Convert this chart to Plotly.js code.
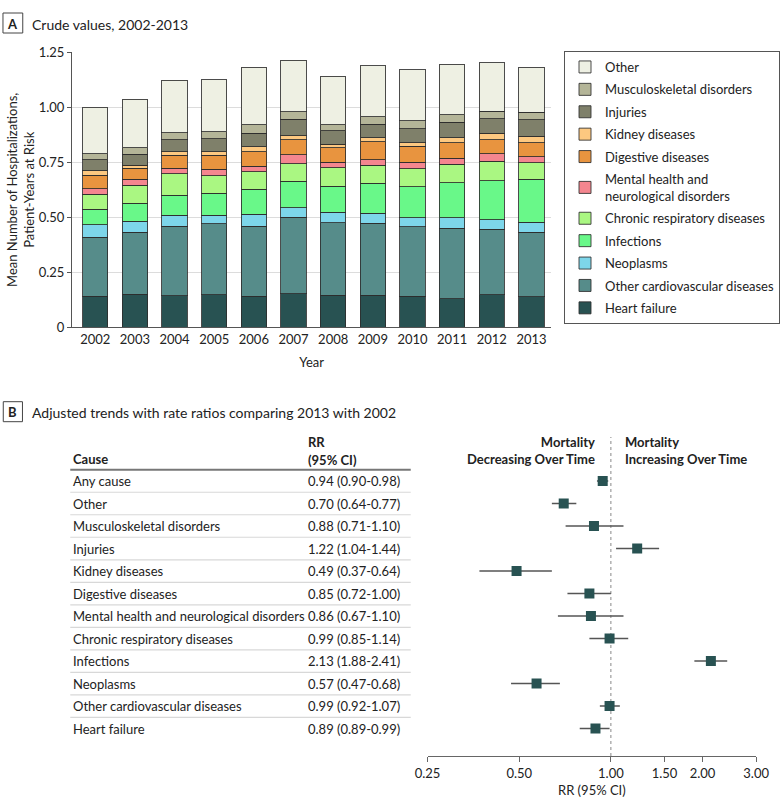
<!DOCTYPE html>
<html><head><meta charset="utf-8">
<script src="https://cdn.plot.ly/plotly-3.0.1.min.js"></script>
<style>html,body{margin:0;padding:0;background:#fff}#chart{width:780px;height:809px}</style>
</head><body><div id="chart"></div>
<script>
// ---------- Panel A data (crude values, stacked bottom to top) ----------
const years = ['2002','2003','2004','2005','2006','2007','2008','2009','2010','2011','2012','2013'];
const heartFailure   = [0.142,0.150,0.144,0.148,0.142,0.153,0.146,0.145,0.141,0.130,0.147,0.139];
const otherCardio    = [0.267,0.283,0.315,0.322,0.318,0.347,0.329,0.327,0.315,0.320,0.298,0.293];
const neoplasms      = [0.057,0.049,0.050,0.039,0.054,0.044,0.048,0.047,0.042,0.047,0.043,0.046];
const infections     = [0.070,0.082,0.092,0.100,0.113,0.119,0.118,0.136,0.140,0.159,0.178,0.194];
const chronicResp    = [0.069,0.081,0.098,0.081,0.081,0.080,0.084,0.082,0.083,0.085,0.088,0.076];
const mentalNeuro    = [0.025,0.028,0.023,0.029,0.023,0.042,0.025,0.025,0.030,0.027,0.036,0.027];
const digestive      = [0.062,0.050,0.060,0.063,0.068,0.068,0.067,0.082,0.072,0.072,0.063,0.065];
const kidney         = [0.019,0.013,0.015,0.016,0.021,0.017,0.015,0.018,0.017,0.021,0.030,0.028];
const injuries       = [0.050,0.050,0.056,0.058,0.062,0.075,0.061,0.062,0.063,0.072,0.065,0.076];
const musculoskeletal= [0.029,0.030,0.031,0.032,0.038,0.035,0.027,0.034,0.037,0.033,0.033,0.033];
const other          = [0.210,0.220,0.238,0.237,0.261,0.233,0.222,0.232,0.231,0.229,0.222,0.205];
const seriesNames = ['Heart failure','Other cardiovascular diseases','Neoplasms','Infections',
  'Chronic respiratory diseases','Mental health and<br>neurological disorders','Digestive diseases',
  'Kidney diseases','Injuries','Musculoskeletal disorders','Other'];
const yTickVals = [0,0.25,0.5,0.75,1,1.25];
const yTickText = ['0','0.25','0.50','0.75','1.00','1.25'];

// ---------- Panel B data (rate ratios 2013 vs 2002) ----------
const causes = ['Any cause','Other','Musculoskeletal disorders','Injuries','Kidney diseases',
  'Digestive diseases','Mental health and neurological disorders','Chronic respiratory diseases',
  'Infections','Neoplasms','Other cardiovascular diseases','Heart failure'];
const rr     = [0.94,0.70,0.88,1.22,0.49,0.85,0.86,0.99,2.13,0.57,0.99,0.89];
const ciLow  = [0.90,0.64,0.71,1.04,0.37,0.72,0.67,0.85,1.88,0.47,0.92,0.79];
const ciHigh = [0.98,0.77,1.10,1.44,0.64,1.00,1.10,1.14,2.41,0.68,1.07,0.99];
const rrText = ['0.94 (0.90-0.98)','0.70 (0.64-0.77)','0.88 (0.71-1.10)','1.22 (1.04-1.44)',
  '0.49 (0.37-0.64)','0.85 (0.72-1.00)','0.86 (0.67-1.10)','0.99 (0.85-1.14)','2.13 (1.88-2.41)',
  '0.57 (0.47-0.68)','0.99 (0.92-1.07)','0.89 (0.89-0.99)'];
const rrTickVals = [0.25,0.5,1,1.5,2,3];
const rrTickText = ['0.25','0.50','1.00','1.50','2.00','3.00'];

// ---------- styles ----------
const W = 780, H = 809;
const px = v => v / W;
const py = v => 1 - v / H;
const FONT = "Lato, 'Noto Sans', sans-serif";
const TXT = '#222';
const colors = ['#285252','#568c8a','#7dd6ea','#69f889','#aaf782','#f4868f','#e8943f','#fdc880','#7f806a','#b4b598','#eef0e3'];
const seriesData = [heartFailure,otherCardio,neoplasms,infections,chronicResp,mentalNeuro,digestive,kidney,injuries,musculoskeletal,other];

const traces = seriesData.map((vals, i) => ({
  type: 'bar', x: years, y: vals, name: seriesNames[i],
  legendgroup: 'g' + i, legendrank: 100 - i,
  marker: {color: colors[i], line: {color: 'rgba(45,45,45,0.85)', width: 1}},
  xaxis: 'x', yaxis: 'y', hoverinfo: 'x+y+name'
}));

const rowIdx = causes.map((c, i) => i);
traces.push({
  type: 'scatter', mode: 'markers', x: rr, y: rowIdx, xaxis: 'x2', yaxis: 'y2',
  showlegend: false,
  marker: {symbol: 'square', size: 10, color: '#285252'},
  error_x: {type: 'data', symmetric: false,
    array: ciHigh.map((h, i) => h - rr[i]), arrayminus: ciLow.map((l, i) => rr[i] - l),
    width: 0, thickness: 1.4, color: '#555'}
});

const annotations = [];
const shapes = [];
function box(x0, y0, x1, y1) {
  shapes.push({type: 'rect', xref: 'paper', yref: 'paper', x0: px(x0), x1: px(x1), y0: py(y1), y1: py(y0),
    line: {color: '#444', width: 1}});
}
function txt(text, x, y, opts) {
  annotations.push(Object.assign({text: text, xref: 'paper', yref: 'paper', x: px(x), y: py(y),
    showarrow: false, xanchor: 'left', yanchor: 'middle', font: {family: FONT, size: 13, color: TXT}}, opts || {}));
}
// panel labels
box(3, 13, 23, 33);
txt('<b>A</b>', 13, 23.5, {xanchor: 'center', font: {family: FONT, size: 13, color: TXT}});
txt('Crude values, 2002-2013', 30.5, 24, {font: {family: FONT, size: 14, color: TXT}});
box(3.3, 401.7, 22.7, 421.7);
txt('<b>B</b>', 13, 412, {xanchor: 'center', font: {family: FONT, size: 13, color: TXT}});
txt('Adjusted trends with rate ratios comparing 2013 with 2002', 30.7, 412, {font: {family: FONT, size: 14, color: TXT}});

// table headers
txt('<b>Cause</b>', 72, 459);
txt('<b>RR</b>', 309, 442);
txt('<b>(95% CI)</b>', 309, 460);
txt('<b>Mortality<br>Decreasing Over Time</b>', 603, 450.5, {xanchor: 'right', align: 'right'});
txt('<b>Mortality<br>Increasing Over Time</b>', 629, 450.5, {xanchor: 'left', align: 'left'});

// table rows
causes.forEach((c, i) => {
  annotations.push({text: c, xref: 'paper', yref: 'y2', x: px(72), y: i, xanchor: 'left', yanchor: 'middle',
    showarrow: false, font: {family: FONT, size: 13, color: TXT}});
  annotations.push({text: rrText[i], xref: 'paper', yref: 'y2', x: px(309), y: i, xanchor: 'left', yanchor: 'middle',
    showarrow: false, font: {family: FONT, size: 13, color: TXT}});
});
shapes.push({type: 'line', xref: 'paper', yref: 'y2', x0: px(71), x1: px(415), y0: -0.5, y1: -0.5,
  line: {color: '#777', width: 2}});
for (let i = 0; i < causes.length - 1; i++) {
  shapes.push({type: 'line', xref: 'paper', yref: 'y2', x0: px(71), x1: px(415), y0: i + 0.5, y1: i + 0.5,
    line: {color: '#d8d8d8', width: 1.2}});
}
// reference line at RR = 1
shapes.push({type: 'line', xref: 'x2', yref: 'paper', x0: 1, x1: 1, y0: py(756), y1: py(437),
  line: {color: '#888', width: 1, dash: 'dot'}, layer: 'below'});

const layout = {
  width: W, height: H, margin: {l: 0, r: 0, t: 0, b: 0, pad: 0},
  paper_bgcolor: '#fff', plot_bgcolor: '#fff',
  font: {family: FONT, size: 13, color: TXT},
  barmode: 'stack', bargap: 0.36,
  showlegend: true,
  legend: {x: px(570), xanchor: 'left', y: py(51), yanchor: 'top',
    bordercolor: '#555', borderwidth: 1, bgcolor: '#fff',
    font: {family: FONT, size: 13, color: TXT},
    traceorder: 'grouped', tracegroupgap: 2.5},
  xaxis: {domain: [px(72.7), px(557)], type: 'category', range: [-0.587, 11.5],
    showline: true, linecolor: '#555', ticks: '', tickfont: {size: 13, color: TXT},
    title: {text: 'Year', font: {size: 13, color: TXT}, standoff: 11}, automargin: false, fixedrange: true},
  yaxis: {domain: [py(327.3), py(52.3)], range: [0, 1.25], tickvals: yTickVals, ticktext: yTickText,
    showline: true, linecolor: '#555', ticks: 'outside', ticklen: 4, tickcolor: '#555',
    showgrid: true, gridcolor: '#dcdcdc', zeroline: false, tickfont: {size: 13, color: TXT},
    title: {text: 'Mean Number of Hospitalizations,<br>Patient-Years at Risk', font: {size: 13, color: TXT}, standoff: 1},
    automargin: false, fixedrange: true},
  xaxis2: {domain: [px(432), px(764)], type: 'log', range: [Math.log10(0.25), Math.log10(3)],
    anchor: 'y2', tickvals: rrTickVals, ticktext: rrTickText,
    showline: true, linecolor: '#666', ticks: 'outside', ticklen: 5, tickcolor: '#666',
    showgrid: false, zeroline: false, tickfont: {size: 13, color: TXT},
    title: {text: 'RR (95% CI)', font: {size: 13, color: TXT}, standoff: 6}, automargin: false, fixedrange: true},
  yaxis2: {domain: [py(756), py(437)], anchor: 'x2', range: [12.22, -1.956],
    visible: false, showgrid: false, zeroline: false, fixedrange: true},
  annotations: annotations, shapes: shapes
};

Plotly.newPlot('chart', traces, layout, {displayModeBar: false, staticPlot: true});
</script></body></html>
